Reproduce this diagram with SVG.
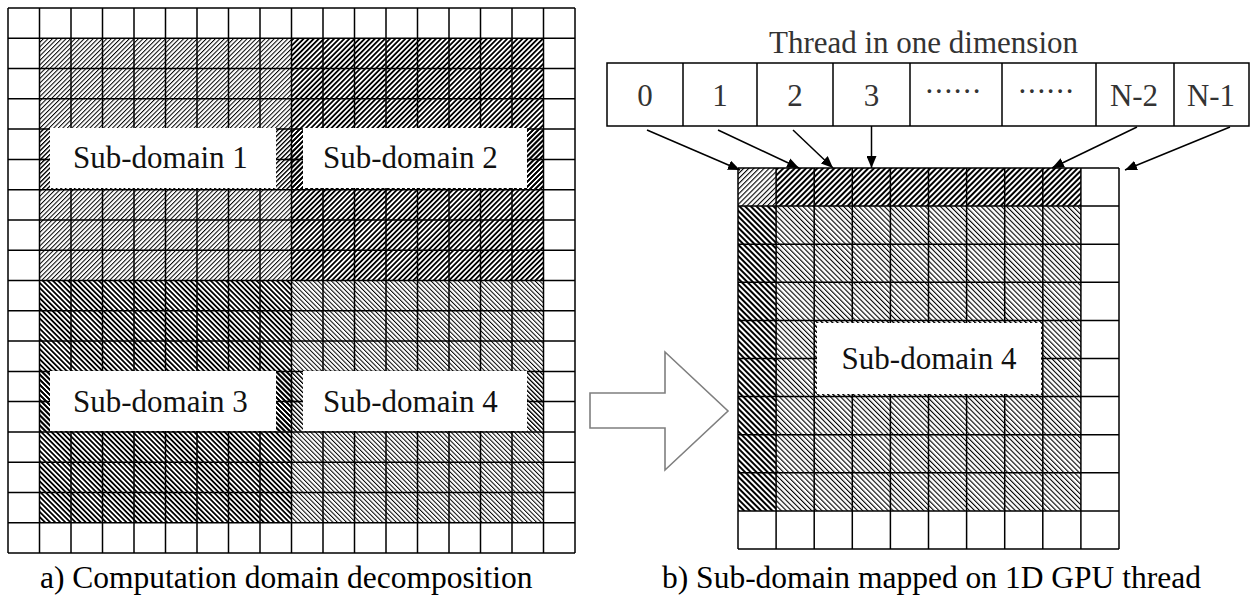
<svg xmlns="http://www.w3.org/2000/svg" width="1251" height="596" viewBox="0 0 1251 596">
<style>
.grid{fill:none;stroke:#000;stroke-width:1.5}
.lbl{font-family:"Liberation Serif",serif;font-size:31px;fill:#111}
.cap{font-family:"Liberation Serif",serif;font-size:31.5px;fill:#000}
.thr{font-family:"Liberation Serif",serif;font-size:31px;fill:#333;text-anchor:middle}
.conn{stroke:#000;stroke-width:1.5;fill:none;marker-end:url(#ah)}
</style>
<defs>
<pattern id="lR" width="3.2" height="3.2" patternUnits="userSpaceOnUse" patternTransform="rotate(45)"><rect width="1" height="3.2" fill="#000"/></pattern>
<pattern id="dR" width="3.6" height="3.6" patternUnits="userSpaceOnUse" patternTransform="rotate(45)"><rect width="1.8" height="3.6" fill="#000"/></pattern>
<pattern id="lL" width="3.2" height="3.2" patternUnits="userSpaceOnUse" patternTransform="rotate(-45)"><rect width="1" height="3.2" fill="#000"/></pattern>
<pattern id="dL" width="3.6" height="3.6" patternUnits="userSpaceOnUse" patternTransform="rotate(-45)"><rect width="1.8" height="3.6" fill="#000"/></pattern>
<pattern id="lR2" width="3.6" height="3.6" patternUnits="userSpaceOnUse" patternTransform="rotate(45)"><rect width="1.1" height="3.6" fill="#000"/></pattern>
<pattern id="dR2" width="4" height="4" patternUnits="userSpaceOnUse" patternTransform="rotate(45)"><rect width="2" height="4" fill="#000"/></pattern>
<pattern id="lL2" width="3.6" height="3.6" patternUnits="userSpaceOnUse" patternTransform="rotate(-45)"><rect width="1.1" height="3.6" fill="#000"/></pattern>
<pattern id="dL2" width="4" height="4" patternUnits="userSpaceOnUse" patternTransform="rotate(-45)"><rect width="2" height="4" fill="#000"/></pattern>
<marker id="ah" viewBox="0 0 12 10" refX="12" refY="5" markerWidth="12" markerHeight="10" markerUnits="userSpaceOnUse" orient="auto"><path d="M0,0 L12,5 L0,10 z" fill="#000"/></marker>
</defs>
<rect width="1251" height="596" fill="#fff"/>

<!-- Left: computation domain -->
<g id="domain">
<rect x="39.5" y="38.3" width="252" height="242.2" fill="url(#lR)"/>
<rect x="291.5" y="38.3" width="252" height="242.2" fill="url(#dR)"/>
<rect x="39.5" y="280.5" width="252" height="242.3" fill="url(#dL)"/>
<rect x="291.5" y="280.5" width="252" height="242.3" fill="url(#lL)"/>
<path class="grid" d="M8,8V553M39.5,8V553M71,8V553M102.5,8V553M134,8V553M165.5,8V553M197,8V553M228.5,8V553M260,8V553M291.5,8V553M323,8V553M354.5,8V553M386,8V553M417.5,8V553M449,8V553M480.5,8V553M512,8V553M543.5,8V553M575,8V553
M8,8H575M8,38.3H575M8,68.6H575M8,98.8H575M8,129.1H575M8,159.4H575M8,189.7H575M8,220H575M8,250.2H575M8,280.5H575M8,310.8H575M8,341.1H575M8,371.4H575M8,401.6H575M8,431.9H575M8,462.2H575M8,492.5H575M8,522.8H575M8,553H575"/>
</g>

<g id="sub1">
<rect x="40.3" y="128.3" width="251.2" height="60.7" fill="url(#lR)"/>
<rect x="50" y="128" width="226" height="60" fill="#fff"/>
<text class="lbl" x="73" y="168">Sub-domain 1</text>
</g>
<g id="sub2">
<rect x="291.5" y="128.3" width="251.2" height="60.7" fill="url(#dR)"/>
<rect x="303" y="128" width="224" height="60" fill="#fff"/>
<text class="lbl" x="323" y="168">Sub-domain 2</text>
</g>
<g id="sub3">
<rect x="40.3" y="370.6" width="251.2" height="60.6" fill="url(#dL)"/>
<rect x="50" y="371" width="226" height="60" fill="#fff"/>
<text class="lbl" x="73" y="412">Sub-domain 3</text>
</g>
<g id="sub4">
<rect x="291.5" y="370.6" width="251.2" height="60.6" fill="url(#lL)"/>
<rect x="303" y="371" width="224" height="60" fill="#fff"/>
<text class="lbl" x="323" y="412">Sub-domain 4</text>
</g>
<path class="grid" d="M39.5,159.4H46M537,159.4H543.5M284,159.4H299M291.5,151V168M39.5,401.6H46M537,401.6H543.5M284,401.6H299M291.5,393V410"/>
<text class="cap" x="40" y="588">a) Computation domain decomposition</text>

<!-- Block arrow -->
<g id="transfer">
<path d="M590,393 H665 V352 L728,411 L665,470 V428 H590 Z" fill="#fff" stroke="#7f7f7f" stroke-width="1.6"/>
</g>

<!-- Thread bar -->
<g id="threads">
<text class="thr" x="923.5" y="53">Thread in one dimension</text>
<rect x="607" y="63" width="642" height="63" fill="#fff" stroke="#000" stroke-width="1.5"/>
<path class="grid" d="M683,63V126M757,63V126M833,63V126M910,63V126M1002,63V126M1096,63V126M1174,63V126"/>
<text class="thr" x="645" y="106">0</text>
<text class="thr" x="720" y="106">1</text>
<text class="thr" x="795" y="106">2</text>
<text class="thr" x="871.5" y="106">3</text>
<text class="thr" x="953" y="93" textLength="55" lengthAdjust="spacing">......</text>
<text class="thr" x="1046" y="93" textLength="55" lengthAdjust="spacing">......</text>
<text class="thr" x="1134" y="106">N-2</text>
<text class="thr" x="1211" y="106">N-1</text>
</g>

<!-- Right: sub-domain mapped -->
<g id="mapped">
<rect x="738" y="168" width="38.1" height="38.1" fill="url(#lR2)"/>
<rect x="776.1" y="168" width="304.8" height="38.1" fill="url(#dR2)"/>
<rect x="738" y="206.1" width="38.1" height="304.8" fill="url(#dL2)"/>
<rect x="776.1" y="206.1" width="304.8" height="304.8" fill="url(#lL2)"/>
<path class="grid" d="M738,168V549M776.1,168V549M814.2,168V549M852.3,168V549M890.4,168V549M928.5,168V549M966.6,168V549M1004.7,168V549M1042.8,168V549M1080.9,168V549M1119,168V549
M738,168H1119M738,206.1H1119M738,244.2H1119M738,282.3H1119M738,320.4H1119M738,358.5H1119M738,396.6H1119M738,434.7H1119M738,472.8H1119M738,510.9H1119M738,549H1119"/>
<rect x="815" y="321.2" width="227" height="74.6" fill="url(#lL2)"/>
<rect x="817" y="323" width="224" height="71" fill="#fff"/>
<text class="lbl" x="929" y="369" text-anchor="middle">Sub-domain 4</text>
</g>
<text class="cap" x="662" y="588">b) Sub-domain mapped on 1D GPU thread</text>

<g id="connectors">
<line class="conn" x1="647" y1="130" x2="740" y2="170"/>
<line class="conn" x1="718" y1="130" x2="799" y2="168"/>
<line class="conn" x1="793" y1="130" x2="833" y2="168"/>
<line class="conn" x1="871.5" y1="126" x2="871.5" y2="168"/>
<line class="conn" x1="1137" y1="127" x2="1052" y2="168"/>
<line class="conn" x1="1230" y1="127" x2="1125" y2="170"/>
</g>
</svg>
